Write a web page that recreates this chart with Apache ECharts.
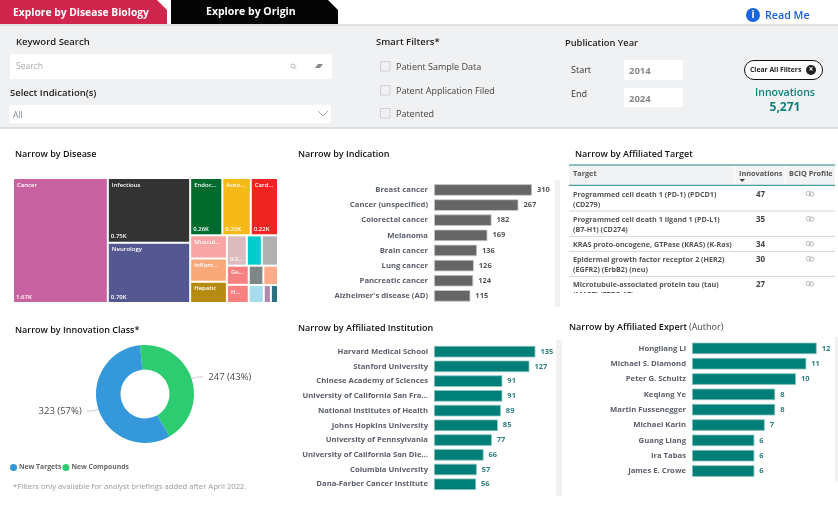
<!DOCTYPE html>
<html>
<head>
<meta charset="utf-8">
<title>Innovations</title>
<style>
html,body{margin:0;padding:0;background:#fff;}
#main{width:838px;height:507px;}
</style>
<script src="https://cdn.jsdelivr.net/npm/echarts@6/dist/echarts.min.js"></script>
</head>
<body>
<div id="main"></div>
<script>
// treemap
var diseaseNames = ['Cancer','Infectious','Neurology','Endocrine','Autoimmune','Cardiovascular','Musculoskeletal','Inflammation','Hepatic','','','','Genitourinary','','','Hematologic','','',''];
var diseaseValues = [1670,750,700,260,230,220,120,120,110,85,64,69,59,40,40,56,38,18,18];
var diseaseValueShown = [0,1,2,3,4,5,9];
var diseaseColors = ['#C8619F','#333333','#555890','#006B2D','#F5BA18','#F02422','#F9A5A5','#F9A87A','#B48A10','#DCBCBE','#00CCCC','#B0B0B0','#F98080','#7F8688','#FFAA88','#F98080','#A5DCEE','#B08AAE','#2A7085'];
// how the cells are grouped, so the blocks fall like the original
var diseaseNesting = [0,[1,2],[[[3,4],5],[[6,7,8],[[9,10,11],[[12,15],[[13,14],[[16,17],18]]]]]]];

// bars
var indicationNames = ['Breast cancer','Cancer (unspecified)','Colorectal cancer','Melanoma','Brain cancer','Lung cancer','Pancreatic cancer',"Alzheimer's disease (AD)"];
var indicationValues = [310,267,182,169,136,126,124,115];
var institutionNames = ['Harvard Medical School','Stanford University','Chinese Academy of Sciences','University of California San Fra...','National Institutes of Health','Johns Hopkins University','University of Pennsylvania','University of California San Die...','Columbia University','Dana-Farber Cancer Institute'];
var institutionValues = [135,127,91,91,89,85,77,66,57,56];
var expertNames = ['Hongliang Li','Michael S. Diamond','Peter G. Schultz','Keqiang Ye','Martin Fussenegger','Michael Karin','Guang Liang','Ira Tabas','James E. Crowe'];
var expertValues = [12,11,10,8,8,7,6,6,6];

// donut
var classNames = ['New Compounds','New Targets'];
var classValues = [247,323];

// table
var targetLines = [
    ['Programmed cell death 1 (PD-1) (PDCD1)','(CD279)'],
    ['Programmed cell death 1 ligand 1 (PD-L1)','(B7-H1) (CD274)'],
    ['KRAS proto-oncogene, GTPase (KRAS) (K-Ras)'],
    ['Epidermal growth factor receptor 2 (HER2)','(EGFR2) (ErbB2) (neu)'],
    ['Microtubule-associated protein tau (tau)','(MAPT) (FTDP-17)']
];
var targetValues = [47,35,34,30,27];

var FONT = '"Open Sans", "Noto Sans", sans-serif';
var TEAL = '#007E78';

function txt(x, y, text, size, weight, color, align) {
    return {type:'text', silent:true, style:{x:x, y:y+0.5, text:text, fill:color, textAlign:align||'left', textVerticalAlign:'middle',
        font:(weight||400)+' '+size+'px '+FONT}};
}
function box(x, y, w, h, fill, stroke, r) {
    return {type:'rect', silent:true, shape:{x:x, y:y, width:w, height:h, r:r||0}, style:{fill:fill, stroke:stroke||null, lineWidth:1}};
}
function line(x1, y1, x2, y2, color, w) {
    return {type:'line', silent:true, shape:{x1:x1, y1:y1, x2:x2, y2:y2}, style:{stroke:color, lineWidth:w||1}};
}
function poly(points, fill) {
    return {type:'polygon', silent:true, shape:{points:points}, style:{fill:fill}};
}
function eye(x, y) {
    return {type:'group', silent:true, children:[
        {type:'circle', shape:{cx:x-1.6, cy:y, r:2.2}, style:{fill:null, stroke:'#aaa', lineWidth:0.8}},
        {type:'circle', shape:{cx:x+1.6, cy:y+0.5, r:2.2}, style:{fill:null, stroke:'#aaa', lineWidth:0.8}}
    ]};
}

// 过滤区和表格
function buildGraphic() {
    var g = [];
    // tabs
    g.push(poly([[0,0],[157,0],[167,10],[167,24],[0,24]], '#D0264E'));
    g.push(txt(13,13,'Explore by Disease Biology',10.3,700,'#fff'));
    g.push(poly([[171,0],[328,0],[338,10],[338,24],[171,24]], '#050505'));
    g.push(txt(206,12,'Explore by Origin',10.5,700,'#fff'));
    g.push({type:'circle', silent:true, shape:{cx:753,cy:15,r:7}, style:{fill:'#1A66E0'}});
    g.push(txt(753,14.5,'i',10,700,'#fff','center'));
    g.push(txt(765,15.5,'Read Me',10.7,600,'#1A5FE0'));

    // panel
    g.push(box(0,25,838,103,'#F0F1F3'));
    g.push(line(0,25,838,25,'#C4C4C4',1));
    g.push(line(0,128,838,128,'#C8C8C8',1));
    g.push(txt(16,41.5,'Keyword Search',9.5,600,'#222'));
    g.push(box(10,54,322,25,'#fff'));
    g.push(txt(16,66.5,'Search',8.5,400,'#aaa'));
    g.push({type:'circle', silent:true, shape:{cx:293,cy:66,r:2}, style:{fill:null,stroke:'#aaa',lineWidth:0.8}});
    g.push(line(294.5,67.5,296.5,69,'#aaa',0.8));
    g.push(poly([[315,68],[318,64],[323,64],[320,68]], '#888'));
    g.push(txt(10,92.5,'Select Indication(s)',9.5,600,'#222'));
    g.push(box(9,105,322,18,'#fff'));
    g.push(txt(13,115.5,'All',8.5,400,'#7A8A9A'));
    g.push({type:'polyline', silent:true, shape:{points:[[318,111],[323,116],[328,111]]}, style:{fill:null,stroke:'#8a94a0',lineWidth:0.8}});

    g.push(txt(376,41.5,'Smart Filters*',9.5,600,'#222'));
    ['Patient Sample Data','Patent Application Filed','Patented'].forEach(function (t, i) {
        var y = [66,90,113][i];
        g.push(box(380.5,y-4.5,9.5,9.5,'#F0F1F3','#CFCFD4'));
        g.push(txt(396,y+0.5,t,9,400,'#444'));
    });

    g.push(txt(565,42.5,'Publication Year',9.3,600,'#222'));
    g.push(txt(571,70,'Start',9,400,'#333'));
    g.push(txt(571,94,'End',9,400,'#333'));
    g.push(box(624,60,59,20,'#fff'));
    g.push(box(624,88,59,19,'#fff'));
    g.push(txt(629,70.5,'2014',9.5,700,'#888'));
    g.push(txt(629,98.5,'2024',9.5,700,'#888'));

    g.push(box(744.5,60.5,78,19,'#fff','#111',9.5));
    g.push(txt(750,70,'Clear All Filters',6.8,700,'#222'));
    g.push({type:'circle', silent:true, shape:{cx:811,cy:70,r:5}, style:{fill:'#222'}});
    g.push(txt(811,69.5,'×',8,700,'#fff','center'));
    g.push(txt(785,93,'Innovations',10.5,600,'#117F7A','center'));
    g.push(txt(785,107,'5,271',12,700,'#117F7A','center'));

    // titles
    g.push(txt(15,154,'Narrow by Disease',9,600,'#111'));
    g.push(txt(298,154,'Narrow by Indication',9,600,'#111'));
    g.push(txt(575,154,'Narrow by Affiliated Target',9,600,'#111'));
    g.push(txt(15,330,'Narrow by Innovation Class*',9,600,'#111'));
    g.push(txt(298,328,'Narrow by Affiliated Institution',9,600,'#111'));
    g.push(txt(569,327,'Narrow by Affiliated Expert',9,600,'#111'));
    g.push(txt(689,327,'(Author)',9,400,'#444'));
    g.push(txt(13,486,'*Filters only available for analyst briefings added after April 2022.',7.7,400,'#999'));

    // scroll tracks
    g.push(box(555,180,5,127,'#F1F1F1'));
    g.push(box(556,340,5,156,'#F1F1F1'));
    g.push(box(560,340,2,156,'#F1F1F1'));
    g.push(box(835,337,3,145,'#F1F1F1'));

    // table
    g.push(box(569,165,266,20,'#F2F3F4'));
    g.push(line(735,165,735,185,'#fff',1));
    g.push(line(785,165,785,185,'#fff',1));
    g.push(txt(573,173.5,'Target',7.3,700,'#555'));
    g.push(txt(739,173.5,'Innovations',7.3,700,'#555'));
    g.push(poly([[739.5,179],[745,179],[742.2,182]],'#444'));
    g.push(txt(789,173.5,'BCIQ Profile',7.3,700,'#555'));
    var rowY = [194.5,219.7,244.5,259.7,284.5];
    targetLines.forEach(function (lines, i) {
        lines.forEach(function (t, j) {
            g.push(txt(573,rowY[i]+j*10,t,7.2,700,'#555'));
        });
        g.push(txt(760.5,rowY[i],String(targetValues[i]),8,700,'#444','center'));
        g.push(eye(810,rowY[i]-1));
    });
    g.push(box(565,293,270,12,'#fff'));
    [211,236.3,251.3,276.3].forEach(function (y) { g.push(line(569,y,835,y,'#D4D4D4',1)); });
    g.push(line(569,165,835,165,'#1F8580',1));
    g.push(line(569,185.3,835,185.3,'#1F8580',1));
    return g;
}

// 树图节点
function buildNode(n, isValueLayer) {
    if (typeof n !== 'number') {
        return {name:'', children:n.map(function (c) { return buildNode(c, isValueLayer); })};
    }
    var node = {name:diseaseNames[n] || ' ', value:diseaseValues[n]};
    if (isValueLayer) {
        node.itemStyle = {color:'rgba(0,0,0,0)', borderColor:'rgba(0,0,0,0)'};
        node.label = {show: diseaseValueShown.indexOf(n) >= 0};
    } else {
        node.itemStyle = {color:diseaseColors[n], borderColor:'#fff', borderWidth:1};
    }
    return node;
}
function valueText(v) {
    var s = (v/1000).toFixed(2)+'K';
    return v < 100 ? s.slice(0,3)+'...' : s;   // small cell, cut like the original
}
function treemapSeries(isValueLayer) {
    return {
        type:'treemap', left:13, top:178, width:265, height:125,
        sort:false, roam:false, nodeClick:false, silent:isValueLayer,
        breadcrumb:{show:false}, animation:false, squareRatio:1,
        visibleMin:0, childrenVisibleMin:0,
        itemStyle:{borderWidth:0, gapWidth:0},
        label:{
            show:true, position:isValueLayer ? 'insideBottomLeft' : 'insideTopLeft',
            color:'#fff', fontFamily:FONT, fontSize:6, fontWeight:600, padding:[3,2,3,3],
            formatter:function (p) {
                return isValueLayer ? valueText(p.value) : p.name;
            }
        },
        data:diseaseNesting.map(function (n) { return buildNode(n, isValueLayer); })
    };
}

function barSeries(i, values, color, borderColor, labelColor) {
    return {
        type:'bar', xAxisIndex:i, yAxisIndex:i, data:values, barWidth:11.5, animation:false,
        itemStyle:{color:color, borderColor:borderColor, borderWidth:0.8},
        label:{show:true, position:'right', distance:5, fontFamily:FONT, fontSize:7.5, fontWeight:700, color:labelColor}
    };
}
function catAxis(i, names) {
    return {type:'category', gridIndex:i, inverse:true, data:names,
        axisLine:{show:false}, axisTick:{show:false}, splitLine:{show:false},
        axisLabel:{margin:6, interval:0, fontFamily:FONT, fontSize:7.7, fontWeight:700, color:'#5A5F6A', padding:[1,0,0,0]}};
}
function valAxis(i, max) {
    return {type:'value', gridIndex:i, min:0, max:max, show:false, splitLine:{show:false}};
}

var chart = echarts.init(document.getElementById('main'));
chart.setOption({
    animation:false,
    backgroundColor:'#fff',
    graphic:{elements:buildGraphic()},
    legend:{
        data:['New Targets','New Compounds'], left:5, top:459, icon:'circle', itemWidth:7, itemHeight:7, itemGap:1,
        textStyle:{fontFamily:FONT, fontSize:6.8, fontWeight:700, color:'#666', padding:[0,0,0,-3]}
    },
    grid:[
        {left:434, top:182.4, width:98, height:121},
        {left:434, top:344.3, width:101.4, height:147.3},
        {left:692, top:340.7, width:124.7, height:138}
    ],
    xAxis:[valAxis(0,310),valAxis(1,135),valAxis(2,12)],
    yAxis:[catAxis(0,indicationNames),catAxis(1,institutionNames),catAxis(2,expertNames)],
    series:[
        treemapSeries(false),
        treemapSeries(true),
        barSeries(0,indicationValues,'#666666','#CCCCCC','#555'),
        barSeries(1,institutionValues,TEAL,'#8CC4C0','#2F7F80'),
        barSeries(2,expertValues,TEAL,'#8CC4C0','#2F7F80'),
        {
            type:'pie', center:[145,394], radius:[24.5,49], startAngle:96, animation:false,
            itemStyle:{borderWidth:0},
            label:{formatter:function (p) { return p.value+' ('+Math.round(p.percent)+'%)'; },
                fontFamily:FONT, fontSize:9.5, color:'#4a4a4a'},
            labelLine:{length:6, length2:6, lineStyle:{color:'#ccc', width:1}},
            data:[
                {name:classNames[0], value:classValues[0], itemStyle:{color:'#2ECC71'}},
                {name:classNames[1], value:classValues[1], itemStyle:{color:'#3498DB'}}
            ]
        }
    ]
});
</script>
</body>
</html>
